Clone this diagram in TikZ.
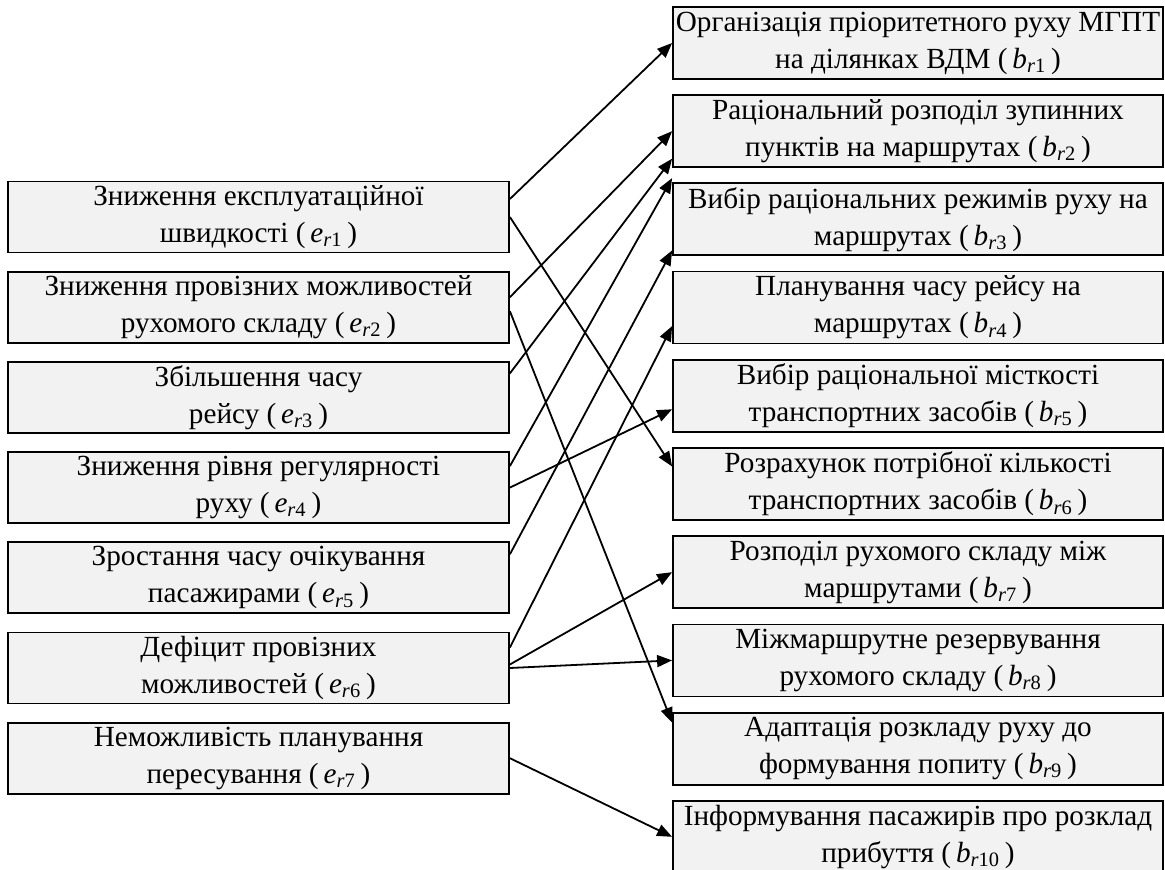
\documentclass[tikz,border=0pt]{standalone}
\usepackage{fontspec}
\setmainfont{Liberation Serif}
\usepackage{tikz}
\usetikzlibrary{positioning,arrows.meta}

\definecolor{boxgray}{HTML}{F2F2F2}
\newcommand{\eidx}[1]{\textit{e}\textsubscript{\textit{r}#1}}
\newcommand{\bidx}[1]{\textit{b}\textsubscript{\textit{r}#1}}

\begin{document}
\begin{tikzpicture}[
  node distance=8.7pt,
  cause/.style={draw, line width=0.9pt, fill=boxgray, align=center, inner sep=1pt,
                minimum width=250.5pt, minimum height=35.5pt,
                font=\fontsize{14.6}{18.5}\selectfont},
  meas/.style={cause, minimum width=245pt, minimum height=36pt},
  arr/.style={-{Triangle[length=7.5pt,width=6pt]}, line width=0.9pt}
]
\useasboundingbox (0,0) rectangle (582.5pt,-435pt);

% causes
\node[cause] (e1) at (129.25pt,-108.5pt) {Зниження експлуатаційної\\швидкості (\,\eidx{1}\,)};
\node[cause, below=of e1] (e2) {Зниження провізних можливостей\\рухомого складу (\,\eidx{2}\,)};
\node[cause, below=of e2] (e3) {Збільшення часу\\рейсу (\,\eidx{3}\,)};
\node[cause, below=of e3] (e4) {Зниження рівня регулярності\\руху (\,\eidx{4}\,)};
\node[cause, below=of e4] (e5) {Зростання часу очікування\\пасажирами (\,\eidx{5}\,)};
\node[cause, below=of e5] (e6) {Дефіцит провізних\\можливостей (\,\eidx{6}\,)};
\node[cause, below=of e6] (e7) {Неможливість планування\\пересування (\,\eidx{7}\,)};

% measures
\node[meas] (b1) at (459pt,-21.5pt) {Організація пріоритетного руху МГПТ\\на ділянках ВДМ (\,\bidx{1}\,)};
\node[meas, below=7.2pt of b1] (b2) {Раціональний розподіл зупинних\\пунктів на маршрутах (\,\bidx{2}\,)};
\node[meas, below=7.2pt of b2] (b3) {Вибір раціональних режимів руху на\\маршрутах (\,\bidx{3}\,)};
\node[meas, below=7.2pt of b3] (b4) {Планування часу рейсу на\\маршрутах (\,\bidx{4}\,)};
\node[meas, below=7.2pt of b4] (b5) {Вибір раціональної місткості\\транспортних засобів (\,\bidx{5}\,)};
\node[meas, below=7.2pt of b5] (b6) {Розрахунок потрібної кількості\\транспортних засобів (\,\bidx{6}\,)};
\node[meas, below=7.2pt of b6] (b7) {Розподіл рухомого складу між\\маршрутами (\,\bidx{7}\,)};
\node[meas, below=7.2pt of b7] (b8) {Міжмаршрутне резервування\\рухомого складу (\,\bidx{8}\,)};
\node[meas, below=7.2pt of b8] (b9) {Адаптація розкладу руху до\\формування попиту (\,\bidx{9}\,)};
\node[meas, below=7.2pt of b9] (b10) {Інформування пасажирів про розклад\\прибуття (\,\bidx{10}\,)};

\draw[arr] ([yshift=9pt]e1.east) -- (b1.west);
\draw[arr] (e1.east) -- ([yshift=8.75pt]b6.west);
\draw[arr] ([yshift=5pt]e2.east) -- (b2.west);
\draw[arr] ([yshift=-2pt]e2.east) -- ([yshift=13pt]b9.west);
\draw[arr] ([yshift=12pt]e3.east) -- ([yshift=-13.75pt]b2.west);
\draw[arr] ([yshift=10.75pt]e4.east) -- ([yshift=-5pt]b2.south west);
\draw[arr] (e4.east) -- ([yshift=-6.75pt]b5.west);
\draw[arr] ([yshift=11.75pt]e5.east) -- ([yshift=-15.5pt]b3.west);
\draw[arr] ([yshift=10.25pt]e6.east) -- ([yshift=-9.25pt]b4.west);
\draw[arr] ([yshift=1.75pt]e6.east) -- (b7.west);
\draw[arr] (e6.east) -- (b8.west);
\draw[arr] (e7.east) -- (b10.west);
\end{tikzpicture}
\end{document}
